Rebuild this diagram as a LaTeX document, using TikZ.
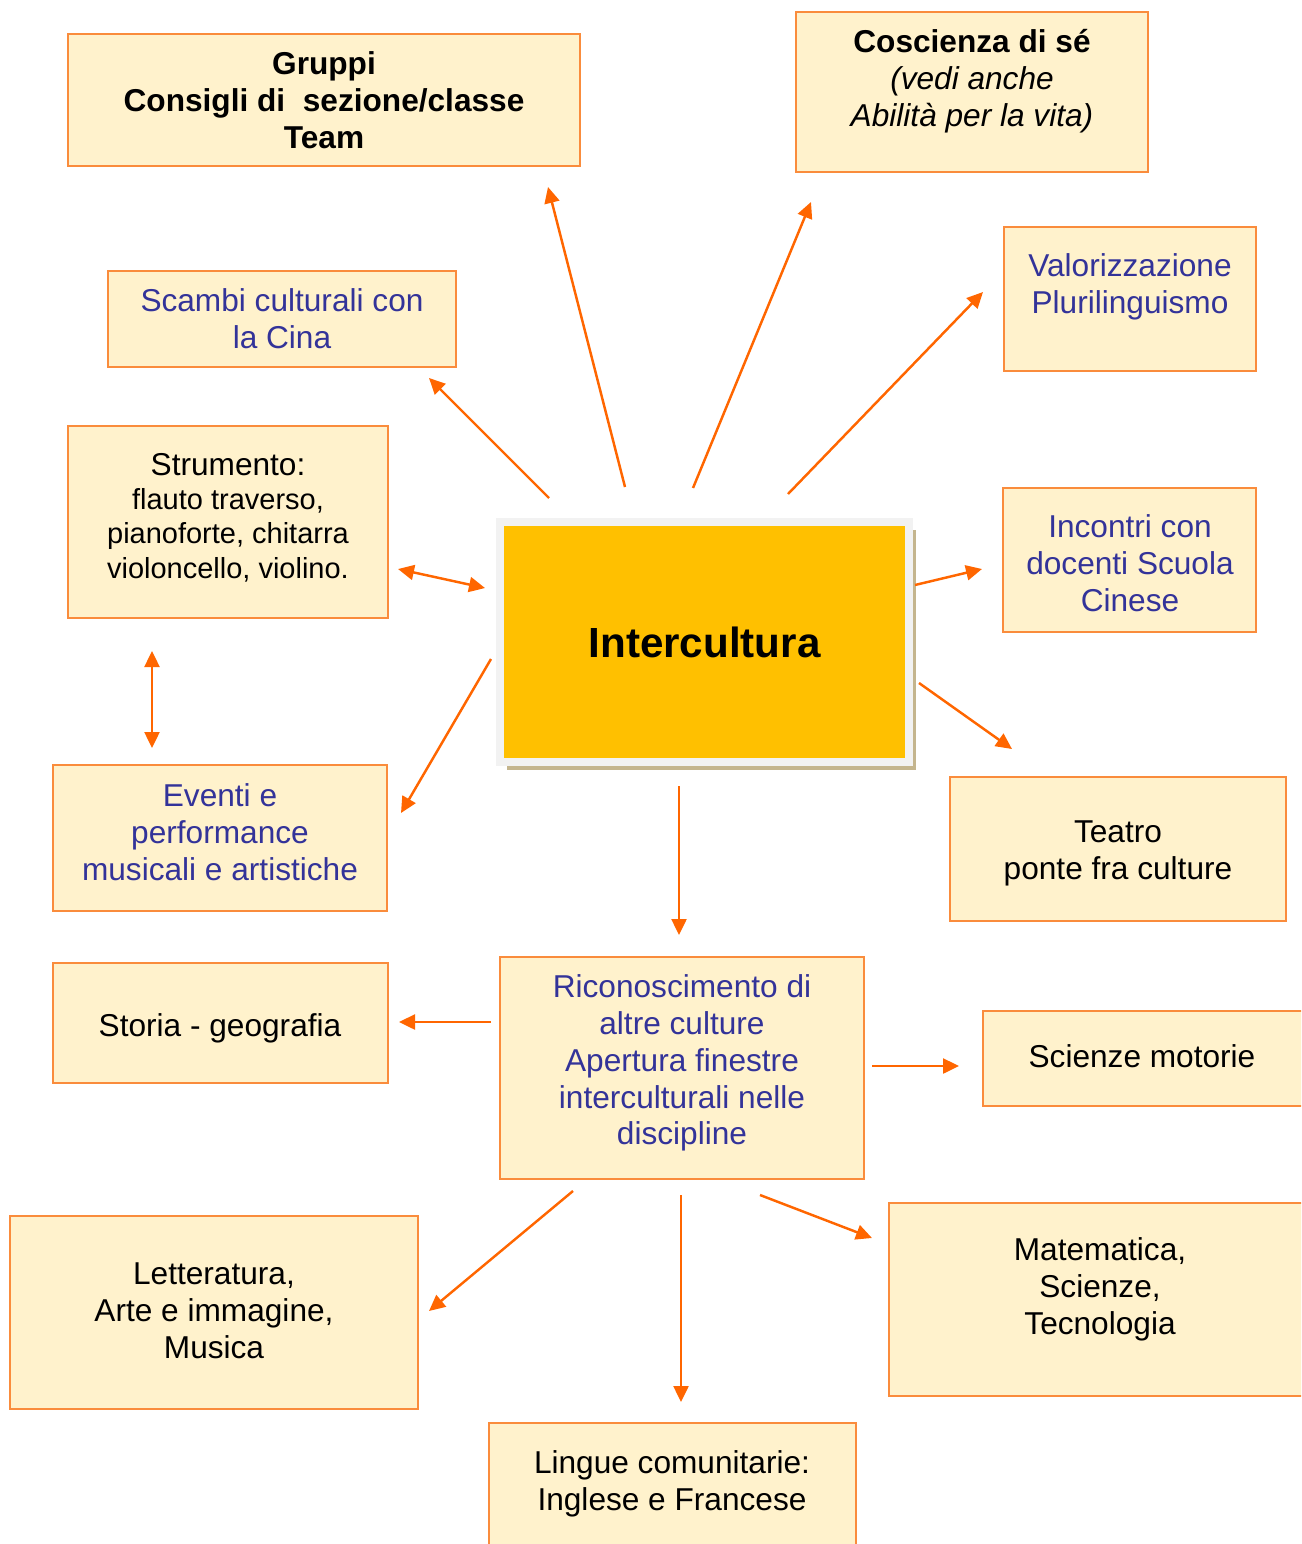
\documentclass[tikz,border=0pt]{standalone}
\usepackage{fontspec}
\setmainfont{Liberation Sans}
\usetikzlibrary{
    arrows.meta,
    shadows
}
\definecolor{boxfill}{HTML}{FFF2CC}
\definecolor{boxline}{HTML}{FA8C3C}
\definecolor{arrowc}{HTML}{FF6600}
\definecolor{textblue}{HTML}{333399}
\definecolor{coreyellow}{HTML}{FFC000}
\definecolor{coreframe}{HTML}{F2F2F2}
\definecolor{coreshadow}{HTML}{C4B58E}

\begin{document}
\begin{tikzpicture}[x=0.02cm, y=-0.02cm,
    box/.style={draw=boxline, fill=boxfill, line width=1pt, inner sep=0pt},
    txt/.style={align=center, inner sep=0pt, font=\fontsize{18}{21}\selectfont},
    bluetxt/.style={txt, text=textblue},
    boldtxt/.style={txt, font=\fontsize{18}{21}\selectfont\bfseries},
    core/.style={fill=coreyellow, draw=coreframe, line width=0.16cm,
        minimum width=8.18cm, minimum height=4.8cm,
        font=\fontsize{24}{28}\selectfont\bfseries,
        drop shadow={shadow xshift=0.14cm, shadow yshift=-0.16cm, fill=coreshadow, opacity=1}},
    arr/.style={draw=arrowc, line width=1.4pt, -{Triangle[length=0.32cm, width=0.3cm]}},
    dblarr/.style={arr, {Triangle[length=0.32cm, width=0.3cm]}-{Triangle[length=0.32cm, width=0.3cm]}}]
    \useasboundingbox (0,0) rectangle (1301,1544);
    \clip (0,0) rectangle (1301,1544);

    % boxes
    \node[box, minimum width=10.24cm, minimum height=2.64cm] (gruppi) at (324,100) {};
    \node[box, minimum width=7.04cm, minimum height=3.2cm] (coscienza) at (972,92) {};
    \node[box, minimum width=5.04cm, minimum height=2.88cm] (valorizz) at (1130,299) {};
    \node[box, minimum width=6.96cm, minimum height=1.92cm] (scambi) at (282,319) {};
    \node[box, minimum width=6.4cm, minimum height=3.84cm] (strumento) at (228,522) {};
    \node[box, minimum width=5.06cm, minimum height=2.88cm] (incontri) at (1129.5,560) {};
    \node[box, minimum width=6.68cm, minimum height=2.92cm] (eventi) at (220,838) {};
    \node[box, minimum width=6.72cm, minimum height=2.88cm] (teatro) at (1118,849) {};
    \node[box, minimum width=6.7cm, minimum height=2.4cm] (storia) at (220.5,1023) {};
    \node[box, minimum width=7.28cm, minimum height=4.44cm] (riconosc) at (682,1068) {};
    \node[box, minimum width=6.94cm, minimum height=1.9cm] (scienze) at (1156.5,1058.5) {};
    \node[box, minimum width=8.16cm, minimum height=3.86cm] (letteratura) at (214,1312.5) {};
    \node[box, minimum width=8.82cm, minimum height=3.86cm] (matematica) at (1109.5,1299.5) {};
    \node[box, minimum width=7.34cm, minimum height=2.94cm] (lingue) at (672.5,1496.5) {};

    \node[core] (intercultura) at (704.5,642) {Intercultura};

    % texts
    \node[boldtxt] (gruppi-t) at (324,100) {Gruppi\\Consigli di\ \ sezione/classe\\Team};
    \node[txt] (coscienza-t) at (972,81) {{\bfseries Coscienza di sé}\\{\itshape (vedi anche}\\{\itshape Abilità per la vita)}};
    \node[bluetxt] (valorizz-t) at (1130,286.5) {Valorizzazione\\Plurilinguismo};
    \node[bluetxt] (scambi-t) at (282,318.5) {Scambi culturali con\\la Cina};
    \node[txt, font=\fontsize{16.5}{19.6}\selectfont] (strumento-t) at (228,517.5)
        {{\fontsize{18}{21}\selectfont Strumento:}\\flauto traverso,\\pianoforte, chitarra\\violoncello, violino.};
    \node[bluetxt] (incontri-t) at (1130,563.5) {Incontri con\\docenti Scuola\\Cinese};
    \node[bluetxt] (eventi-t) at (220,832.5) {Eventi e\\performance\\musicali e artistiche};
    \node[txt] (teatro-t) at (1118,853) {Teatro\\ponte fra culture};
    \node[txt] (storia-t) at (220,1028) {Storia - geografia};
    \node[bluetxt] (riconosc-t) at (682,1063) {Riconoscimento di\\altre culture\\Apertura finestre\\interculturali nelle\\discipline};
    \node[txt] (scienze-t) at (1142,1056) {Scienze motorie};
    \node[txt] (letteratura-t) at (214,1310.5) {Letteratura,\\Arte e immagine,\\Musica};
    \node[txt] (matematica-t) at (1100,1289) {Matematica,\\Scienze,\\Tecnologia};
    \node[txt] (lingue-t) at (672,1483.5) {Lingue comunitarie:\\Inglese e Francese};

    % arrow ends
    \coordinate (gruppi-a) at (625,487);
    \coordinate (gruppi-b) at (548,187);
    \coordinate (coscienza-a) at (693,488);
    \coordinate (coscienza-b) at (811,202);
    \coordinate (valorizz-a) at (788,494);
    \coordinate (valorizz-b) at (983,292);
    \coordinate (scambi-a) at (549,498);
    \coordinate (scambi-b) at (429,378);
    \coordinate (strumento-a) at (398,569);
    \coordinate (strumento-b) at (485,588);
    \coordinate (eventi-a) at (152,651);
    \coordinate (eventi-b) at (152,748);
    \coordinate (eventi-c) at (491,659);
    \coordinate (eventi-d) at (401,813);
    \coordinate (incontri-a) at (915,585);
    \coordinate (incontri-b) at (982,569);
    \coordinate (teatro-a) at (919,683);
    \coordinate (teatro-b) at (1012,749);
    \coordinate (riconosc-a) at (679,786);
    \coordinate (riconosc-b) at (679,935);
    \coordinate (storia-a) at (491,1022);
    \coordinate (storia-b) at (399,1022);
    \coordinate (scienze-a) at (872,1066);
    \coordinate (scienze-b) at (959,1066);
    \coordinate (letteratura-a) at (573,1191);
    \coordinate (letteratura-b) at (429,1311);
    \coordinate (lingue-a) at (681,1195);
    \coordinate (lingue-b) at (681,1402);
    \coordinate (matematica-a) at (760,1195);
    \coordinate (matematica-b) at (872,1238);

    \draw
    (gruppi-a) edge[arr] (gruppi-b)
    (coscienza-a) edge[arr] (coscienza-b)
    (valorizz-a) edge[arr] (valorizz-b)
    (scambi-a) edge[arr] (scambi-b)
    (strumento-a) edge[dblarr] (strumento-b)
    (eventi-a) edge[dblarr] (eventi-b)
    (eventi-c) edge[arr] (eventi-d)
    (incontri-a) edge[arr] (incontri-b)
    (teatro-a) edge[arr] (teatro-b)
    (riconosc-a) edge[arr] (riconosc-b)
    (storia-a) edge[arr] (storia-b)
    (scienze-a) edge[arr] (scienze-b)
    (letteratura-a) edge[arr] (letteratura-b)
    (lingue-a) edge[arr] (lingue-b)
    (matematica-a) edge[arr] (matematica-b);
\end{tikzpicture}
\end{document}
